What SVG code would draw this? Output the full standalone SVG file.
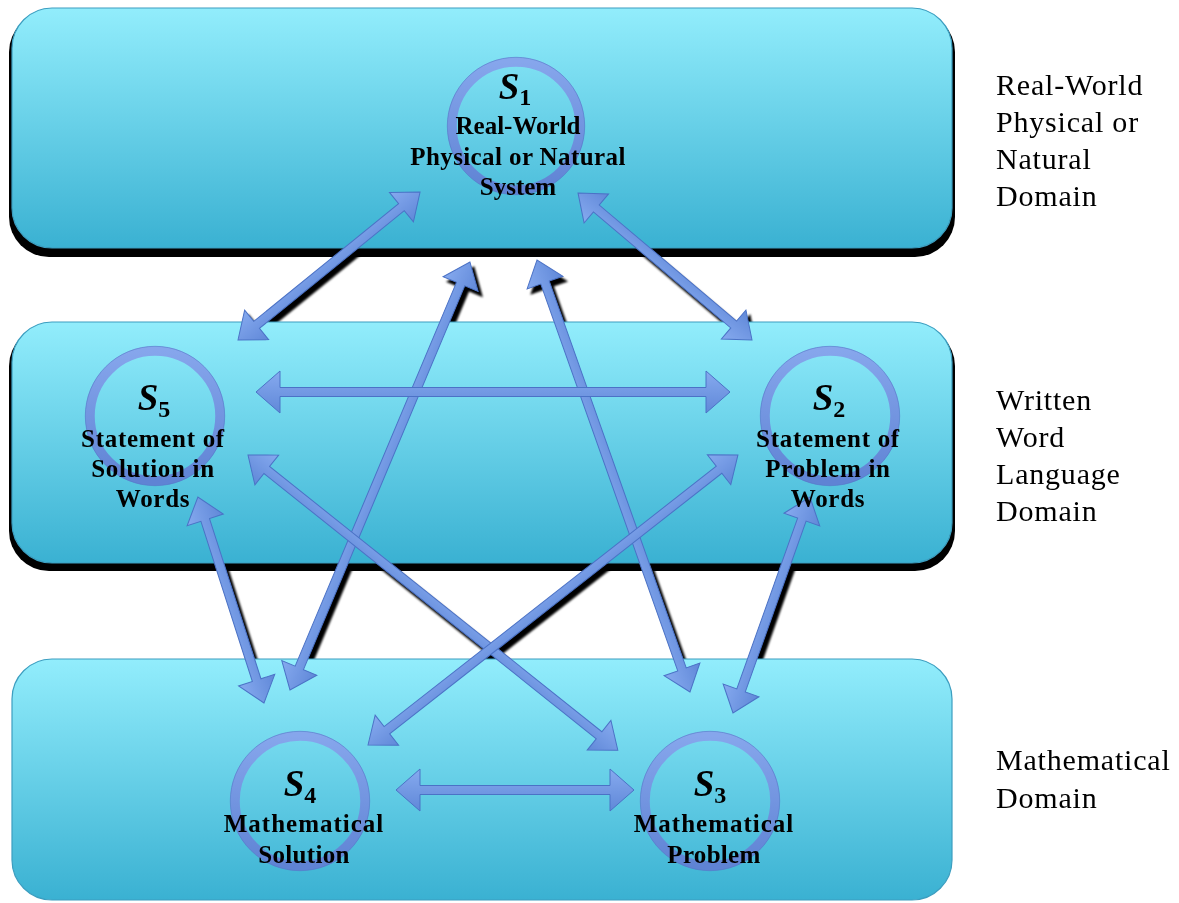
<svg xmlns="http://www.w3.org/2000/svg" xmlns:xlink="http://www.w3.org/1999/xlink" width="1179" height="903" viewBox="0 0 1179 903">
<defs>
<linearGradient id="bandg" x1="0" y1="0" x2="0" y2="1">
<stop offset="0" stop-color="#92EDFC"/>
<stop offset="1" stop-color="#3AB1D2"/>
</linearGradient>
<linearGradient id="ringg" x1="0" y1="0" x2="0" y2="1">
<stop offset="0" stop-color="#86A6EC"/>
<stop offset="1" stop-color="#5F83D4"/>
</linearGradient>
<linearGradient id="arrg" x1="0" y1="0" x2="0" y2="1">
<stop offset="0" stop-color="#86AAEF"/>
<stop offset="1" stop-color="#6088D8"/>
</linearGradient>
<filter id="blur1" x="-10%" y="-10%" width="120%" height="120%"><feGaussianBlur stdDeviation="1"/></filter>
</defs>
<style>
.band{fill:url(#bandg);stroke:#3C9EC0;stroke-width:1.2}
.bshadow{fill:#000}
.ring{fill:none;stroke:url(#ringg);stroke-width:9.5}
.ringedge{fill:none;stroke:#5577C8;stroke-width:1;opacity:0.6}
.lbl{font-family:"Liberation Serif","Times New Roman",serif;font-weight:bold;font-size:25px;fill:#000;text-anchor:middle}
.sv{font-family:"Liberation Serif","Times New Roman",serif;font-weight:bold;font-style:italic;font-size:37px}
.sub{font-family:"Liberation Serif","Times New Roman",serif;font-weight:bold;font-style:normal;font-size:24px}
.dom{font-family:"Liberation Serif","Times New Roman",serif;font-size:30px;fill:#000;letter-spacing:0.8px}
</style>

<g id="band-shadows">
<rect class="bshadow" x="9" y="12" width="946" height="245" rx="40"/>
<rect class="bshadow" x="9" y="326" width="946" height="245" rx="40"/>
</g>

<g id="arrow-shadows" filter="url(#blur1)">
<use xlink:href="#arrowpaths" href="#arrowpaths" transform="translate(4,5)" fill="#000" stroke="#000"/>
</g>

<g id="domains">
<g id="band-real"><rect class="band" x="12" y="8" width="940" height="240" rx="40"/></g>
<g id="band-written"><rect class="band" x="12" y="322" width="940" height="241" rx="40"/></g>
<g id="band-math"><rect class="band" x="12" y="659" width="940" height="241" rx="40"/></g>
</g>

<g id="connectors" fill="url(#arrg)" stroke="#4B72C6" stroke-width="1" stroke-linejoin="miter">
<g id="arrowpaths">
<path transform="translate(238,340) rotate(-39.1)" d="M0,0 L24,-19 L24,-4.5 L210.6,-4.5 L210.6,-19 L234.6,0 L210.6,19 L210.6,4.5 L24,4.5 L24,19 Z"/>
<path transform="translate(752,340) rotate(-139.8)" d="M0,0 L24,-19 L24,-4.5 L203.8,-4.5 L203.8,-19 L227.8,0 L203.8,19 L203.8,4.5 L24,4.5 L24,19 Z"/>
<path transform="translate(290,690) rotate(-67.2)" d="M0,0 L24,-19 L24,-4.5 L440.3,-4.5 L440.3,-19 L464.3,0 L440.3,19 L440.3,4.5 L24,4.5 L24,19 Z"/>
<path transform="translate(690,692) rotate(-109.5)" d="M0,0 L24,-19 L24,-4.5 L434.3,-4.5 L434.3,-19 L458.3,0 L434.3,19 L434.3,4.5 L24,4.5 L24,19 Z"/>
<path transform="translate(256,392) rotate(0)" d="M0,0 L24,-21 L24,-4.5 L450,-4.5 L450,-21 L474,0 L450,21 L450,4.5 L24,4.5 L24,21 Z"/>
<path transform="translate(264,703) rotate(-107.8)" d="M0,0 L24,-19 L24,-4.5 L192.3,-4.5 L192.3,-19 L216.3,0 L192.3,19 L192.3,4.5 L24,4.5 L24,19 Z"/>
<path transform="translate(733,713) rotate(-70.4)" d="M0,0 L24,-19 L24,-4.5 L205.3,-4.5 L205.3,-19 L229.3,0 L205.3,19 L205.3,4.5 L24,4.5 L24,19 Z"/>
<path transform="translate(248,455) rotate(38.6)" d="M0,0 L24,-19 L24,-4.5 L449.2,-4.5 L449.2,-19 L473.2,0 L449.2,19 L449.2,4.5 L24,4.5 L24,19 Z"/>
<path transform="translate(368,745) rotate(-38.1)" d="M0,0 L24,-19 L24,-4.5 L446.1,-4.5 L446.1,-19 L470.1,0 L446.1,19 L446.1,4.5 L24,4.5 L24,19 Z"/>
<path transform="translate(396,790) rotate(0)" d="M0,0 L24,-21 L24,-4.5 L214,-4.5 L214,-21 L238,0 L214,21 L214,4.5 L24,4.5 L24,21 Z"/>
</g>
</g>

<g id="S1">
<circle class="ring" cx="516" cy="126" r="64"/>
<circle class="ringedge" cx="516" cy="126" r="68.7"/>
<text x="515" y="99" class="lbl"><tspan class="sv">S</tspan><tspan class="sub" dy="6">1</tspan></text>
<text x="518" y="134" class="lbl">Real-World</text>
<text x="518" y="165" class="lbl" letter-spacing="0.4">Physical or Natural</text>
<text x="518" y="195" class="lbl">System</text>
</g>

<g id="S5">
<circle class="ring" cx="155" cy="416" r="65"/>
<circle class="ringedge" cx="155" cy="416" r="69.7"/>
<text x="154" y="410" class="lbl"><tspan class="sv">S</tspan><tspan class="sub" dy="7">5</tspan></text>
<text x="153" y="447" class="lbl" letter-spacing="0.7">Statement of</text>
<text x="153" y="477" class="lbl" letter-spacing="0.7">Solution in</text>
<text x="153" y="507" class="lbl" letter-spacing="0.7">Words</text>
</g>

<g id="S2">
<circle class="ring" cx="830" cy="416" r="65"/>
<circle class="ringedge" cx="830" cy="416" r="69.7"/>
<text x="829" y="410" class="lbl"><tspan class="sv">S</tspan><tspan class="sub" dy="7">2</tspan></text>
<text x="828" y="447" class="lbl" letter-spacing="0.7">Statement of</text>
<text x="828" y="477" class="lbl" letter-spacing="0.7">Problem in</text>
<text x="828" y="507" class="lbl" letter-spacing="0.7">Words</text>
</g>

<g id="S4">
<circle class="ring" cx="300" cy="801" r="65"/>
<circle class="ringedge" cx="300" cy="801" r="69.7"/>
<text x="300" y="796" class="lbl"><tspan class="sv">S</tspan><tspan class="sub" dy="7">4</tspan></text>
<text x="304" y="832" class="lbl" letter-spacing="1">Mathematical</text>
<text x="304" y="863" class="lbl" letter-spacing="0.3">Solution</text>
</g>

<g id="S3">
<circle class="ring" cx="710" cy="801" r="65"/>
<circle class="ringedge" cx="710" cy="801" r="69.7"/>
<text x="710" y="796" class="lbl"><tspan class="sv">S</tspan><tspan class="sub" dy="7">3</tspan></text>
<text x="714" y="832" class="lbl" letter-spacing="1">Mathematical</text>
<text x="714" y="863" class="lbl" letter-spacing="0.3">Problem</text>
</g>

<g id="domain-labels">
<text class="dom" x="996" y="95">Real-World</text>
<text class="dom" x="996" y="132">Physical or</text>
<text class="dom" x="996" y="169">Natural</text>
<text class="dom" x="996" y="206">Domain</text>
<text class="dom" x="996" y="410">Written</text>
<text class="dom" x="996" y="447">Word</text>
<text class="dom" x="996" y="484">Language</text>
<text class="dom" x="996" y="521">Domain</text>
<text class="dom" x="996" y="770">Mathematical</text>
<text class="dom" x="996" y="808">Domain</text>
</g>
</svg>
